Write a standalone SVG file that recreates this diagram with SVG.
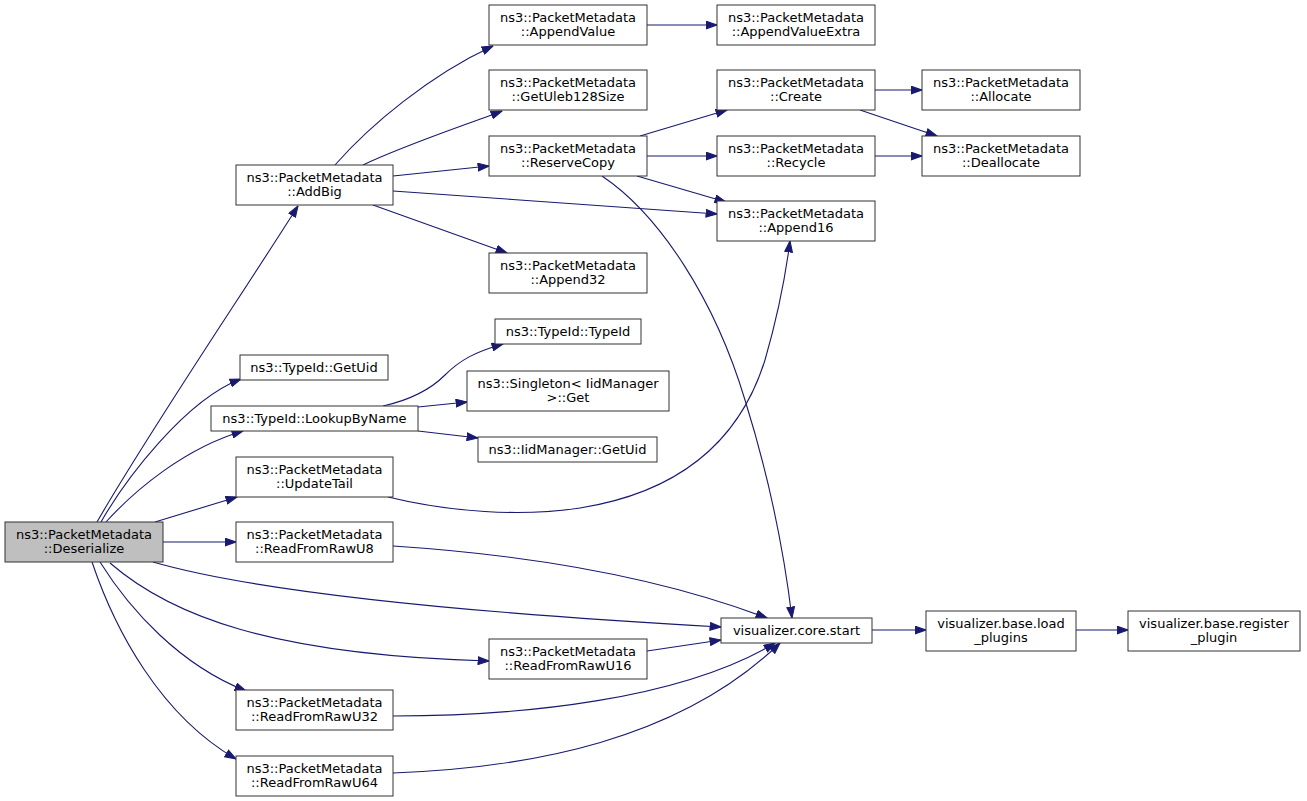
<svg xmlns="http://www.w3.org/2000/svg" width="1307" height="801" viewBox="0 0 1307 801">
<defs>
<style>
.n rect{fill:#fff;stroke:#333;stroke-width:1}
.n.root rect{fill:#bfbfbf}
.n text{font-family:"DejaVu Sans","Liberation Sans",sans-serif;font-size:13px;fill:#000;text-anchor:middle}
#edges path{fill:none;stroke:#191970;stroke-width:1.1;marker-end:url(#arr)}
</style>
<marker id="arr" markerUnits="userSpaceOnUse" markerWidth="12" markerHeight="9" viewBox="0 0 11 8" refX="10.5" refY="4" orient="auto">
<path d="M0.5,0.5 L10.5,4 L0.5,7.5 z" fill="#191970" stroke="#191970" stroke-width="1"/>
</marker>
</defs>
<rect width="1307" height="801" fill="#fff"/>
<g id="edges">
<path d="M97,522 C150,430 245,290 298,206"/>
<path d="M101,522 C125,480 185,400 241,379"/>
<path d="M106,522 C135,490 185,448 243,431"/>
<path d="M155,522 L237,497"/>
<path d="M163,542 L236,542"/>
<path d="M153,562 C250,590 450,612 721,627"/>
<path d="M110,563 C170,615 270,655 489,661"/>
<path d="M100,562 C130,610 180,665 246,691"/>
<path d="M92,562 C115,630 160,715 236,759"/>
<path d="M335,165 C370,125 430,75 493,46"/>
<path d="M363,165 C405,145 460,127 502,111"/>
<path d="M393,176 L489,166"/>
<path d="M393,191 C500,198 620,208 717,214"/>
<path d="M373,205 L507,253"/>
<path d="M647,25 L717,25"/>
<path d="M640,136 L727,110"/>
<path d="M647,156 L717,156"/>
<path d="M637,176 L726,202"/>
<path d="M602,176 C660,215 715,300 745,400 C770,480 785,560 792,618"/>
<path d="M875,90 L922,90"/>
<path d="M860,110 L937,136"/>
<path d="M875,156 L922,156"/>
<path d="M383,406 C410,400 430,390 445,375 C460,360 475,352 503,344"/>
<path d="M418,407 L467,402"/>
<path d="M418,431 L478,438"/>
<path d="M388,497 C450,512 520,517 580,508 C680,492 740,440 765,360 C778,315 785,280 790,241"/>
<path d="M393,546 C500,553 640,570 767,618"/>
<path d="M647,651 L721,640"/>
<path d="M393,716 C520,716 680,700 775,643"/>
<path d="M393,773 C530,768 680,740 780,643"/>
<path d="M872,630 L926,630"/>
<path d="M1076,630 L1128,630"/>
</g>
<g id="n_deserialize" class="n root"><rect x="5" y="522" width="158" height="40"/><text x="84" y="538.5">ns3::PacketMetadata</text><text x="84" y="553">::Deserialize</text></g>
<g id="n_addbig" class="n"><rect x="236" y="165" width="157" height="40"/><text x="314.5" y="181.5">ns3::PacketMetadata</text><text x="314.5" y="196">::AddBig</text></g>
<g id="n_getuid" class="n"><rect x="240" y="355" width="148" height="25"/><text x="314" y="372">ns3::TypeId::GetUid</text></g>
<g id="n_lookup" class="n"><rect x="211" y="406" width="207" height="25"/><text x="314.5" y="423">ns3::TypeId::LookupByName</text></g>
<g id="n_updatetail" class="n"><rect x="236" y="457" width="157" height="40"/><text x="314.5" y="473.5">ns3::PacketMetadata</text><text x="314.5" y="488">::UpdateTail</text></g>
<g id="n_u8" class="n"><rect x="236" y="522" width="157" height="40"/><text x="314.5" y="538.5">ns3::PacketMetadata</text><text x="314.5" y="553">::ReadFromRawU8</text></g>
<g id="n_u32" class="n"><rect x="236" y="690" width="157" height="40"/><text x="314.5" y="706.5">ns3::PacketMetadata</text><text x="314.5" y="721">::ReadFromRawU32</text></g>
<g id="n_u64" class="n"><rect x="236" y="756" width="157" height="40"/><text x="314.5" y="772.5">ns3::PacketMetadata</text><text x="314.5" y="787">::ReadFromRawU64</text></g>
<g id="n_appendvalue" class="n"><rect x="489" y="5" width="158" height="40"/><text x="568" y="21.5">ns3::PacketMetadata</text><text x="568" y="36">::AppendValue</text></g>
<g id="n_uleb" class="n"><rect x="489" y="70" width="158" height="40"/><text x="568" y="86.5">ns3::PacketMetadata</text><text x="568" y="101">::GetUleb128Size</text></g>
<g id="n_reservecopy" class="n"><rect x="489" y="136" width="158" height="40"/><text x="568" y="152.5">ns3::PacketMetadata</text><text x="568" y="167">::ReserveCopy</text></g>
<g id="n_append32" class="n"><rect x="489" y="253" width="158" height="40"/><text x="568" y="269.5">ns3::PacketMetadata</text><text x="568" y="284">::Append32</text></g>
<g id="n_typeid" class="n"><rect x="495" y="319" width="146" height="25"/><text x="568" y="336">ns3::TypeId::TypeId</text></g>
<g id="n_singleton" class="n"><rect x="467" y="371" width="202" height="40"/><text x="568" y="387.5">ns3::Singleton&lt; IidManager</text><text x="568" y="402">&gt;::Get</text></g>
<g id="n_iidgetuid" class="n"><rect x="478" y="437" width="179" height="25"/><text x="567.5" y="454">ns3::IidManager::GetUid</text></g>
<g id="n_u16" class="n"><rect x="489" y="639" width="158" height="40"/><text x="568" y="655.5">ns3::PacketMetadata</text><text x="568" y="670">::ReadFromRawU16</text></g>
<g id="n_appendvalueextra" class="n"><rect x="717" y="5" width="158" height="40"/><text x="796" y="21.5">ns3::PacketMetadata</text><text x="796" y="36">::AppendValueExtra</text></g>
<g id="n_create" class="n"><rect x="717" y="70" width="158" height="40"/><text x="796" y="86.5">ns3::PacketMetadata</text><text x="796" y="101">::Create</text></g>
<g id="n_recycle" class="n"><rect x="717" y="136" width="158" height="40"/><text x="796" y="152.5">ns3::PacketMetadata</text><text x="796" y="167">::Recycle</text></g>
<g id="n_append16" class="n"><rect x="717" y="201" width="158" height="40"/><text x="796" y="217.5">ns3::PacketMetadata</text><text x="796" y="232">::Append16</text></g>
<g id="n_corestart" class="n"><rect x="721" y="618" width="151" height="25"/><text x="796.5" y="635">visualizer.core.start</text></g>
<g id="n_allocate" class="n"><rect x="922" y="70" width="158" height="40"/><text x="1001" y="86.5">ns3::PacketMetadata</text><text x="1001" y="101">::Allocate</text></g>
<g id="n_deallocate" class="n"><rect x="922" y="136" width="158" height="40"/><text x="1001" y="152.5">ns3::PacketMetadata</text><text x="1001" y="167">::Deallocate</text></g>
<g id="n_loadplugins" class="n"><rect x="926" y="611" width="150" height="40"/><text x="1001" y="627.5">visualizer.base.load</text><text x="1001" y="642">_plugins</text></g>
<g id="n_register" class="n"><rect x="1128" y="611" width="172" height="40"/><text x="1214" y="627.5">visualizer.base.register</text><text x="1214" y="642">_plugin</text></g>
</svg>
